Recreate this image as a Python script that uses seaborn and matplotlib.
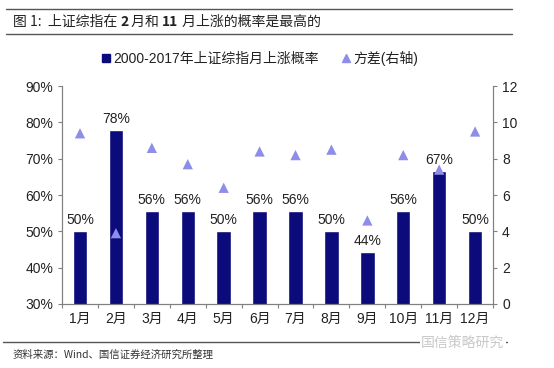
import matplotlib
matplotlib.use("Agg")
import matplotlib.pyplot as plt
from matplotlib.lines import Line2D
from matplotlib.ticker import FixedLocator
import numpy as np
import pandas as pd
import seaborn as sns

# data
months = ["1月", "2月", "3月", "4月", "5月", "6月", "7月", "8月", "9月", "10月", "11月", "12月"]
up_prob = [50.0, 77.8, 55.6, 55.6, 50.0, 55.6, 55.6, 50.0, 44.4, 55.6, 66.7, 50.0]
variance = [9.4, 3.9, 8.6, 7.7, 6.4, 8.4, 8.2, 8.5, 4.6, 8.2, 7.4, 9.5]

sns.set_theme(style="white")
plt.rcParams['font.family'] = ['Liberation Sans', 'Noto Sans CJK SC', 'DejaVu Sans']
cjk = ['Noto Sans CJK SC', 'DejaVu Sans']

bar_color = "#0b0b7c"
tri_color = "#8e8ee8"
grey = "#808080"

df = pd.DataFrame({"month": months, "prob": up_prob, "var": variance})

fig = plt.figure(figsize=(5.54, 3.68), dpi=100)
ax = fig.add_axes([0.112, 0.174, 0.778, 0.592])

sns.barplot(data=df, x="month", y="prob", color=bar_color, width=0.4,
            saturation=1, ax=ax)
ax.set_ylim(30, 90)
ax.set_yticks(range(30, 91, 10))
ax.set_yticklabels([f"{v}%" for v in range(30, 91, 10)])
ax.bar_label(ax.containers[0], labels=[f"{round(v)}%" for v in up_prob],
             padding=3, fontsize=10, color="#222222")

ax2 = ax.twinx()
sns.scatterplot(x=np.arange(len(months)), y=variance, marker="^", s=55,
                color=tri_color, edgecolor="none", ax=ax2, zorder=5)
ax2.set_ylim(0, 12)
ax2.set_yticks(range(0, 13, 2))
ax.set_xlim(-0.5, 11.5)

for a in (ax, ax2):
    a.set_xlabel("")
    a.set_ylabel("")
    a.spines["top"].set_visible(False)
    for s in ("left", "right", "bottom"):
        a.spines[s].set_color(grey)
        a.spines[s].set_linewidth(0.8)
    a.tick_params(axis="y", labelsize=10, colors="#222222", length=3,
                  width=0.8, direction="out", color=grey)

ax.tick_params(axis="y", left=True, right=False)
ax2.tick_params(axis="y", right=True, left=False)
ax.tick_params(axis="x", length=0, labelsize=10, colors="#222222", pad=6)
ax.xaxis.set_minor_locator(FixedLocator(np.arange(-0.5, 12, 1)))
ax.tick_params(axis="x", which="minor", bottom=True, length=3, width=0.8,
               color=grey, direction="out")

handles = [
    Line2D([], [], marker="s", linestyle="none", color=bar_color, markersize=6),
    Line2D([], [], marker="^", linestyle="none", color=tri_color, markersize=6),
]
fig.legend(handles, ["2000-2017年上证综指月上涨概率", "方差(右轴)"],
           loc="center", bbox_to_anchor=(0.468, 0.842), ncol=2, frameon=False,
           fontsize=10, handletextpad=0.1, columnspacing=1.6,
           handlelength=0.8, labelcolor="#222222")

# title band and source line
fig.add_artist(Line2D([0.01, 0.925], [1 - 9 / 368] * 2, color="#555555", lw=1))
fig.add_artist(Line2D([0.01, 0.925], [1 - 34 / 368] * 2, color="#555555", lw=1))
title_y = 1 - 22 / 368
x = 0.023
for piece, weight in [("图 1:  上证综指在 ", "normal"), ("2", "bold"),
                      (" 月和 ", "normal"), ("11", "bold"),
                      (" 月上涨的概率是最高的", "normal")]:
    t = fig.text(x, title_y, piece, fontsize=10, fontweight=weight,
                 va="center", color="#222222", family=cjk)
    fig.canvas.draw()
    bb = t.get_window_extent()
    x = bb.x1 / fig.bbox.width
fig.add_artist(Line2D([0.005, 0.915], [1 - 342 / 368] * 2, color="#555555", lw=1))
fig.text(0.023, 1 - 355 / 368, "资料来源：Wind、国信证券经济研究所整理",
         fontsize=7.5, va="center", color="#333333", family=cjk)
fig.text(0.835, 1 - 343 / 368, "国信策略研究", fontsize=10, va="center",
         ha="center", color="#c8c8c8", family=cjk,
         bbox=dict(facecolor="white", edgecolor="none", pad=1))

fig.savefig("out.png", dpi=100)
